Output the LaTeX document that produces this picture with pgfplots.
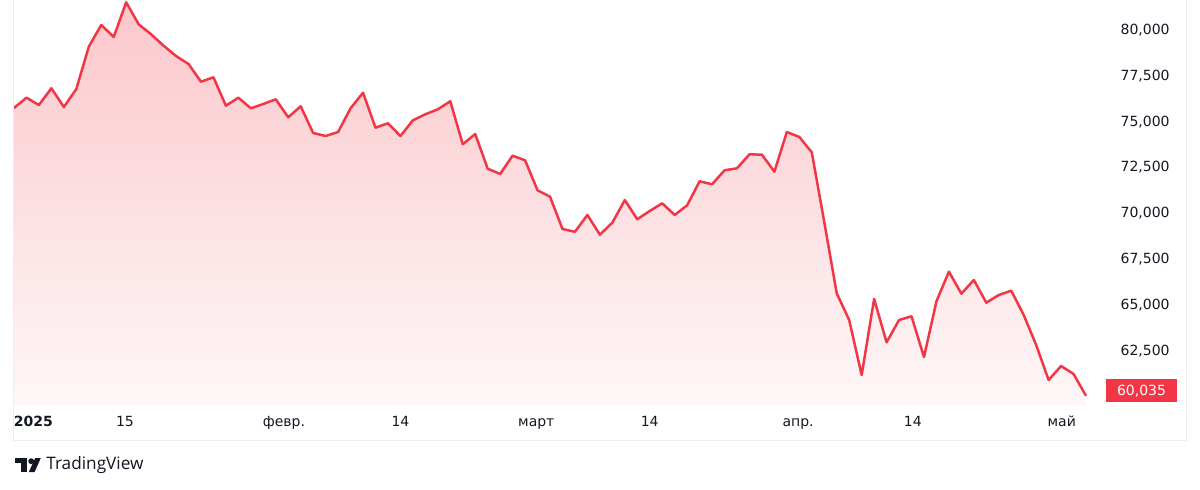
\documentclass[border=0pt]{standalone}
\usepackage{pgfplots}
\pgfplotsset{compat=1.18}
\usepackage{pgfplotstable}
\usepackage{fontspec}
\setmainfont{DejaVu Sans}
\newfontfamily\logofont{Open Sans}
\definecolor{tvred}{RGB}{242,54,69}
\definecolor{tvtext}{RGB}{19,23,34}
\definecolor{tvframe}{RGB}{236,238,243}
\definecolor{filltop}{RGB}{251,199,203}
\definecolor{fillbot}{RGB}{254,247,248}

\pgfplotstableread{
i v
0 75744
1 76306
2 75907
3 76819
4 75798
5 76780
6 79089
7 80273
8 79618
9 81512
10 80311
11 79765
12 79143
13 78581
14 78145
15 77179
16 77419
17 75869
18 76306
19 75727
20 75962
21 76218
22 75236
23 75836
24 74379
25 74216
26 74434
27 75727
28 76578
29 74669
30 74909
31 74216
32 75072
33 75400
34 75673
35 76109
36 73763
37 74325
38 72431
39 72142
40 73141
41 72890
42 71252
43 70903
44 69141
45 68988
46 69905
47 68830
48 69484
49 70723
50 69670
51 70123
52 70543
53 69905
54 70434
55 71744
56 71580
57 72344
58 72453
59 73217
60 73195
61 72267
62 74434
63 74161
64 73326
65 69523
66 65632
67 64175
68 61173
69 65321
70 62958
71 64175
72 64377
73 62156
74 65195
75 66811
76 65610
77 66357
78 65119
79 65539
80 65774
81 64448
82 62810
83 60900
84 61664
85 61228
86 60035
}\data

\begin{document}
\begin{tikzpicture}
\begin{axis}[
  at={(6.5pt,42pt)}, anchor=south west,
  scale only axis, width=586.5pt, height=202.5pt,
  xmin=-0.08, xmax=94.02, ymin=59536, ymax=81637,
  axis line style={draw=none}, major tick length=0pt,
  scaled y ticks=false,
  ytick={62500,65000,67500,70000,72500,75000,77500,80000},
  yticklabel pos=right,
  yticklabel style={anchor=east, inner sep=0pt, xshift=-8pt,
    font=\fontsize{7}{8}\selectfont, text=tvtext,
    /pgf/number format/.cd, fixed, precision=0, 1000 sep={,}, min exponent for 1000 sep=3, assume math mode=true},
  xtick={1.55,8.9,21.66,31,41.9,51,62.9,72.1,84.05},
  xticklabels={\textbf{2025},15,февр.,14,март,14,апр.,14,май},
  xticklabel style={anchor=base, inner sep=0pt, yshift=-10.5pt,
    font=\fontsize{7}{8}\selectfont, text=tvtext},
]
\addplot[draw=none, top color=filltop, bottom color=fillbot]
  table[x=i, y=v] {\data} -- (axis cs:86,59536) -- (axis cs:0,59536) -- cycle;
\addplot[draw=tvred, line width=1.25pt, line join=round, mark=none]
  table[x=i, y=v] {\data};
\node[fill=tvred, text=white, minimum width=35.5pt, minimum height=11.5pt,
  inner sep=0pt, font=\fontsize{7}{8}\selectfont, yshift=2.5pt]
  at (axis cs:90.45,60035) {60,035};
\end{axis}
% frame
\draw[tvframe, line width=0.5pt] (6.5pt,244.5pt) -- (6.5pt,24.5pt) -- (593pt,24.5pt) -- (593pt,244.5pt);
% logo
\fill[tvtext] (7.5pt,13pt) rectangle (13.6pt,15.5pt);
\fill[tvtext] (10.6pt,8.5pt) rectangle (13.6pt,15.5pt);
\fill[tvtext] (15.6pt,13.9pt) circle (1.45pt);
\fill[tvtext] (17.6pt,15.5pt) -- (20.4pt,15.5pt) -- (17.3pt,8.5pt) -- (14.4pt,8.5pt) -- cycle;
\node[anchor=west, inner sep=0pt, text=tvtext, font=\logofont\fontsize{8.6}{10}\selectfont] at (23pt,11.9pt) {TradingView};
\pgfresetboundingbox
\path[use as bounding box] (0,0) rectangle (600pt,244.5pt);
\end{tikzpicture}
\end{document}
